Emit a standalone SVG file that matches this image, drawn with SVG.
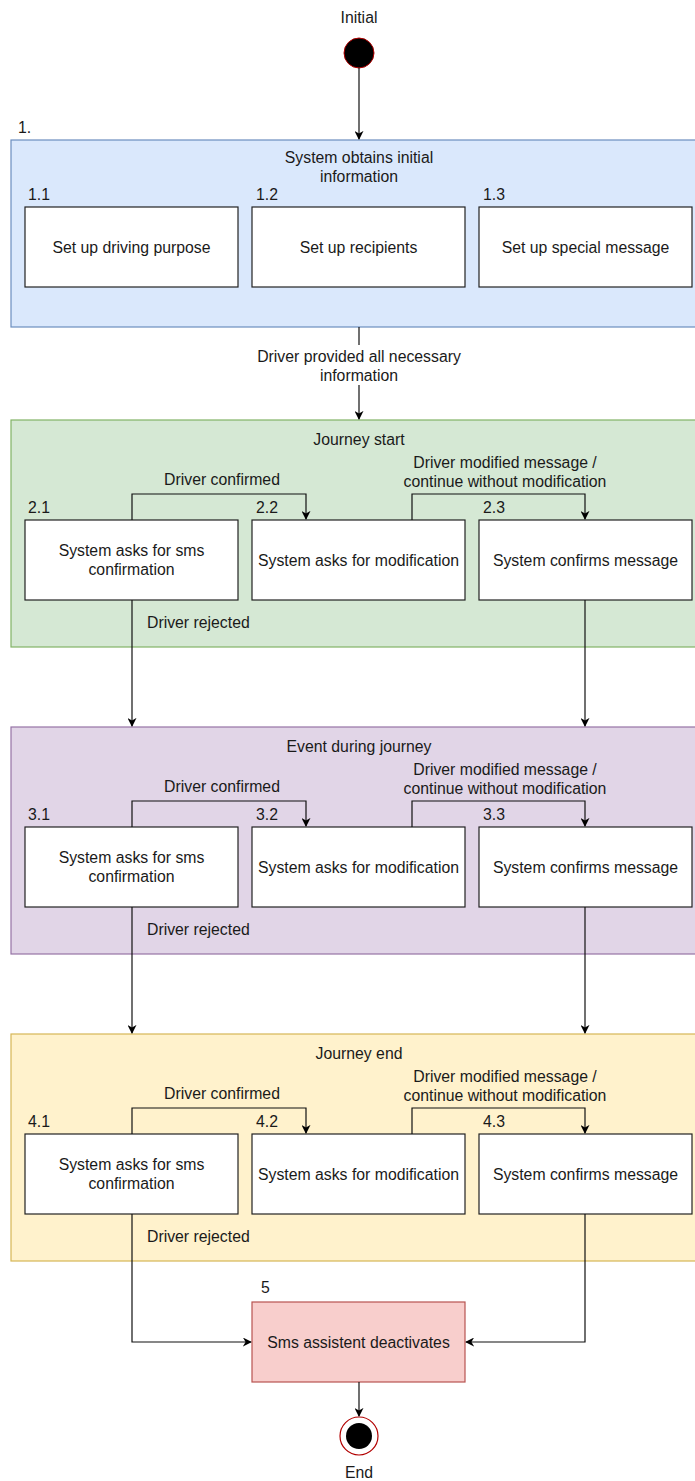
<svg xmlns="http://www.w3.org/2000/svg" width="695" height="1481" viewBox="0 0 695 1481">
<defs>
<marker id="ah" viewBox="0 0 10 10" refX="9" refY="5" markerWidth="9" markerHeight="9" markerUnits="userSpaceOnUse" orient="auto"><path d="M0,0 L10,5 L0,10 L3,5 Z" fill="#000"/></marker>
</defs>
<style>
text{font-family:"Liberation Sans",Arial,sans-serif;font-size:15.8px;fill:#1a1a1a}
.c{text-anchor:middle}
.box{fill:#fff;stroke:#222;stroke-width:1.2}
.ln{fill:none;stroke:#111;stroke-width:1.2}
</style>
<rect width="695" height="1481" fill="#fff"/>

<g id="initial">
<text class="c" x="359" y="23">Initial</text>
<circle cx="359" cy="53" r="15" fill="#000" stroke="#b20000" stroke-width="1"/>
</g>

<g id="container1">
<text x="18" y="133">1.</text>
<rect x="11" y="140" width="690" height="187" fill="#dae8fc" stroke="#6c8ebf" stroke-width="1.2"/>
<text class="c" x="359" y="163">System obtains initial</text>
<text class="c" x="359" y="182">information</text>
</g>
<g id="n1_1"><text x="28" y="200">1.1</text><rect class="box" x="25" y="207" width="213" height="80"/><text class="c" x="131.5" y="253">Set up driving purpose</text></g>
<g id="n1_2"><text x="256" y="200">1.2</text><rect class="box" x="252" y="207" width="213" height="80"/><text class="c" x="358.5" y="253">Set up recipients</text></g>
<g id="n1_3"><text x="483" y="200">1.3</text><rect class="box" x="479" y="207" width="213" height="80"/><text class="c" x="585.5" y="253">Set up special message</text></g>

<g id="container2">
<rect x="11" y="420" width="690" height="227" fill="#d5e8d4" stroke="#82b366" stroke-width="1.2"/>
<text class="c" x="359" y="445">Journey start</text>
</g>
<g id="n2_1"><text x="28" y="513">2.1</text><rect class="box" x="25" y="520" width="213" height="80"/><text class="c" x="131.5" y="556">System asks for sms</text><text class="c" x="131.5" y="575">confirmation</text></g>
<g id="n2_2"><text x="256" y="513">2.2</text><rect class="box" x="252" y="520" width="213" height="80"/><text class="c" x="358.5" y="566">System asks for modification</text></g>
<g id="n2_3"><text x="483" y="513">2.3</text><rect class="box" x="479" y="520" width="213" height="80"/><text class="c" x="585.5" y="566">System confirms message</text></g>

<g id="container3">
<rect x="11" y="727" width="690" height="227" fill="#e1d5e7" stroke="#9673a6" stroke-width="1.2"/>
<text class="c" x="359" y="752">Event during journey</text>
</g>
<g id="n3_1"><text x="28" y="820">3.1</text><rect class="box" x="25" y="827" width="213" height="80"/><text class="c" x="131.5" y="863">System asks for sms</text><text class="c" x="131.5" y="882">confirmation</text></g>
<g id="n3_2"><text x="256" y="820">3.2</text><rect class="box" x="252" y="827" width="213" height="80"/><text class="c" x="358.5" y="873">System asks for modification</text></g>
<g id="n3_3"><text x="483" y="820">3.3</text><rect class="box" x="479" y="827" width="213" height="80"/><text class="c" x="585.5" y="873">System confirms message</text></g>

<g id="container4">
<rect x="11" y="1034" width="690" height="227" fill="#fff2cc" stroke="#d6b656" stroke-width="1.2"/>
<text class="c" x="359" y="1059">Journey end</text>
</g>
<g id="n4_1"><text x="28" y="1127">4.1</text><rect class="box" x="25" y="1134" width="213" height="80"/><text class="c" x="131.5" y="1170">System asks for sms</text><text class="c" x="131.5" y="1189">confirmation</text></g>
<g id="n4_2"><text x="256" y="1127">4.2</text><rect class="box" x="252" y="1134" width="213" height="80"/><text class="c" x="358.5" y="1180">System asks for modification</text></g>
<g id="n4_3"><text x="483" y="1127">4.3</text><rect class="box" x="479" y="1134" width="213" height="80"/><text class="c" x="585.5" y="1180">System confirms message</text></g>

<g id="n5"><text x="261" y="1293">5</text><rect x="252" y="1302" width="213" height="80" fill="#f8cecc" stroke="#b85450" stroke-width="1.2"/><text class="c" x="358.5" y="1348">Sms assistent deactivates</text></g>

<g id="end">
<circle cx="359" cy="1436" r="19" fill="#fff" stroke="#b20000" stroke-width="1.2"/>
<circle cx="359" cy="1436" r="13" fill="#000"/>
<text class="c" x="359" y="1478">End</text>
</g>

<g id="connectors">
<path class="ln" d="M359,68 V139" marker-end="url(#ah)"/>
<path class="ln" d="M359,327 V345"/>
<path class="ln" d="M359,385 V419" marker-end="url(#ah)"/>
<text class="c" x="359" y="362">Driver provided all necessary</text>
<text class="c" x="359" y="381">information</text>

<path class="ln" d="M132,520 V494 H306 V519" marker-end="url(#ah)"/>
<text class="c" x="222" y="485">Driver confirmed</text>
<path class="ln" d="M412,520 V494 H585 V519" marker-end="url(#ah)"/>
<text class="c" x="505" y="468">Driver modified message /</text>
<text class="c" x="505" y="487">continue without modification</text>
<path class="ln" d="M132,600 V726" marker-end="url(#ah)"/>
<text x="147" y="628">Driver rejected</text>
<path class="ln" d="M585,600 V726" marker-end="url(#ah)"/>

<path class="ln" d="M132,827 V801 H306 V826" marker-end="url(#ah)"/>
<text class="c" x="222" y="792">Driver confirmed</text>
<path class="ln" d="M412,827 V801 H585 V826" marker-end="url(#ah)"/>
<text class="c" x="505" y="775">Driver modified message /</text>
<text class="c" x="505" y="794">continue without modification</text>
<path class="ln" d="M132,907 V1033" marker-end="url(#ah)"/>
<text x="147" y="935">Driver rejected</text>
<path class="ln" d="M585,907 V1033" marker-end="url(#ah)"/>

<path class="ln" d="M132,1134 V1108 H306 V1133" marker-end="url(#ah)"/>
<text class="c" x="222" y="1099">Driver confirmed</text>
<path class="ln" d="M412,1134 V1108 H585 V1133" marker-end="url(#ah)"/>
<text class="c" x="505" y="1082">Driver modified message /</text>
<text class="c" x="505" y="1101">continue without modification</text>
<path class="ln" d="M132,1214 V1342 H251" marker-end="url(#ah)"/>
<text x="147" y="1242">Driver rejected</text>
<path class="ln" d="M585,1214 V1342 H466" marker-end="url(#ah)"/>

<path class="ln" d="M359,1382 V1416" marker-end="url(#ah)"/>
</g>
</svg>
